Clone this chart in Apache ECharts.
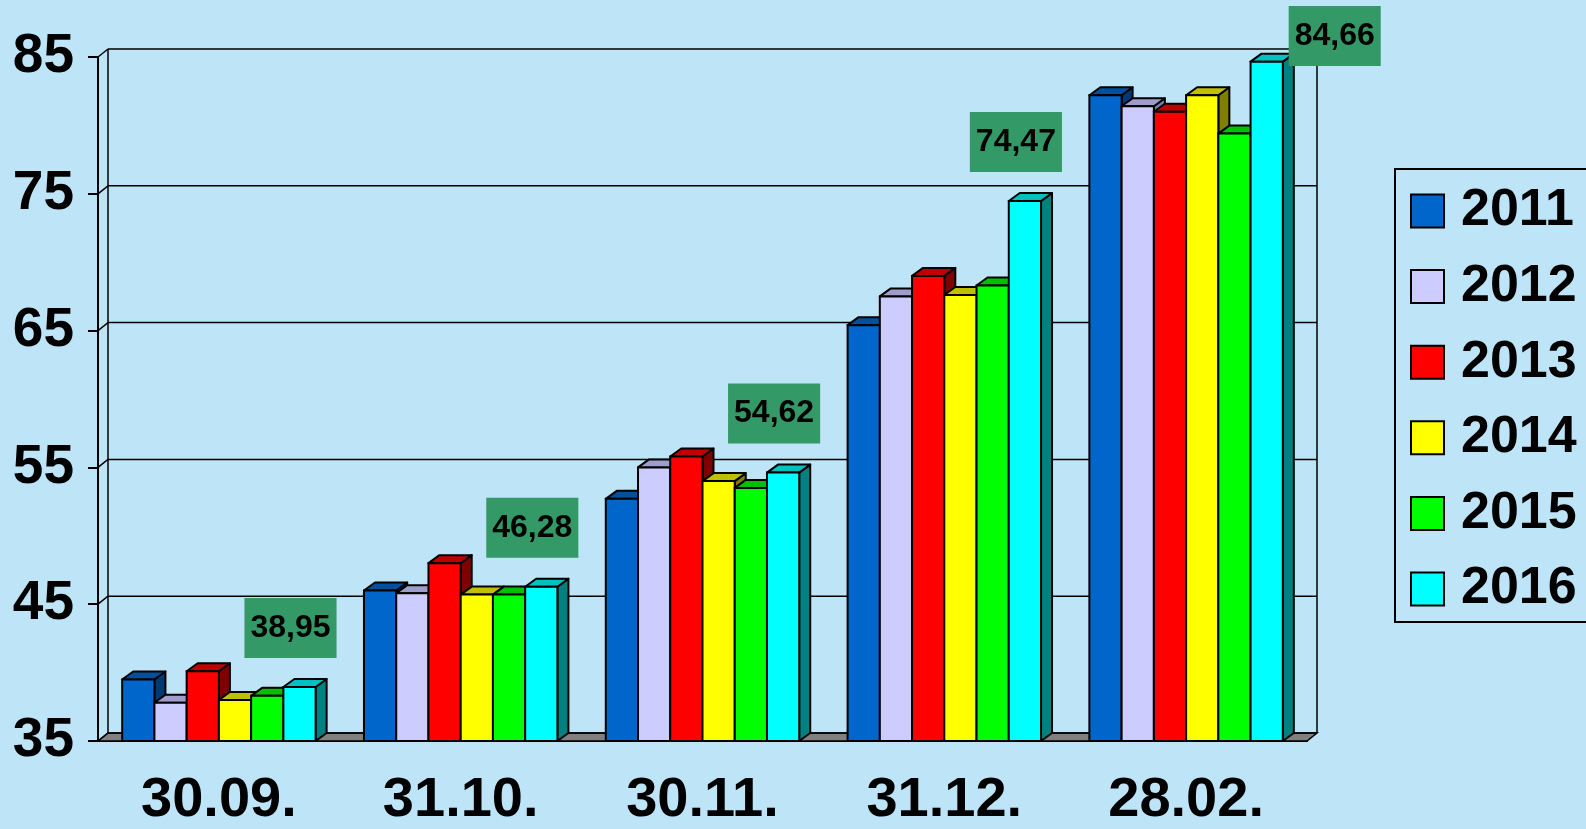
<!DOCTYPE html>
<html>
<head>
<meta charset="utf-8">
<script src="https://cdn.jsdelivr.net/npm/echarts@6/dist/echarts.min.js"></script>
<style>
html,body{margin:0;padding:0;background:#BEE4F7;}
#chart{width:1586px;height:829px;}
</style>
</head>
<body>
<div id="chart"></div>
<script>
const categories = ['30.09.', '31.10.', '30.11.', '31.12.', '28.02.'];
const years = ['2011', '2012', '2013', '2014', '2015', '2016'];
const v2011 = [39.5, 46.0, 52.7, 65.4, 82.2];
const v2012 = [37.8, 45.8, 55.0, 67.5, 81.4];
const v2013 = [40.1, 48.0, 55.8, 69.0, 81.0];
const v2014 = [38.0, 45.7, 54.0, 67.6, 82.2];
const v2015 = [38.3, 45.7, 53.5, 68.3, 79.4];
const v2016 = [38.95, 46.28, 54.62, 74.47, 84.66];
const yTicks = [35, 45, 55, 65, 75, 85];

const seriesValues = [v2011, v2012, v2013, v2014, v2015, v2016];
const frontColors = ['#0066CC', '#CCCCFF', '#FF0000', '#FFFF00', '#00FF00', '#00FFFF'];
const topColors   = ['#0050A0', '#9E9ECC', '#C00000', '#C0C000', '#00C000', '#00C0C0'];
const sideColors  = ['#003A75', '#7F7FA6', '#800000', '#808000', '#008000', '#008080'];

const yMin = yTicks[0], yMax = yTicks[yTicks.length - 1];
const WDX = 10, WDY = 8;   // wall depth offset
const BDX = 11, BDY = 8;   // bar depth offset
const LINE = '#000';
const FONT = '"Liberation Sans", Arial, sans-serif';

function wallRender(params, api) {
  const cs = params.coordSys;
  const t = api.value(1);
  const y = api.coord([0, t])[1];
  const left = cs.x, right = cs.x + cs.width;
  const children = [];
  if (params.dataIndex === 0) {
    const yb = api.coord([0, yMin])[1];
    const yt = api.coord([0, yMax])[1];
    // floor
    children.push({
      type: 'polygon',
      shape: { points: [[left, yb], [left + WDX, yb - WDY], [right + WDX, yb - WDY], [right, yb]] },
      style: { fill: '#808080', stroke: LINE, lineWidth: 1.5 }
    });
    // left wall back edge
    children.push({
      type: 'line',
      shape: { x1: left + WDX, y1: yt - WDY, x2: left + WDX, y2: yb - WDY },
      style: { stroke: LINE, lineWidth: 1.5 }
    });
    // back wall right edge
    children.push({
      type: 'line',
      shape: { x1: right + WDX, y1: yt - WDY, x2: right + WDX, y2: yb - WDY },
      style: { stroke: LINE, lineWidth: 1.5 }
    });
  }
  // back gridline
  children.push({
    type: 'line',
    shape: { x1: left + WDX, y1: y - WDY, x2: right + WDX, y2: y - WDY },
    style: { stroke: LINE, lineWidth: 1.5 }
  });
  // left wall diagonal
  children.push({
    type: 'line',
    shape: { x1: left, y1: y, x2: left + WDX, y2: y - WDY },
    style: { stroke: LINE, lineWidth: 1.5 }
  });
  return { type: 'group', children };
}

function barRender(sIdx, withLabel) {
  return function (params, api) {
    const ci = api.value(0), v = api.value(1);
    const top = api.coord([ci, v]);
    const base = api.coord([ci, yMin]);
    const band = api.size([1, 0])[0];
    const bw = band * 0.8 / 6;
    const x0 = top[0] - band * 0.4 + sIdx * bw;
    const x1 = x0 + bw;
    const yt = top[1], yb = base[1];
    const children = [
      { type: 'polygon',
        shape: { points: [[x1, yt], [x1 + BDX, yt - BDY], [x1 + BDX, yb - BDY], [x1, yb]] },
        style: { fill: sideColors[sIdx], stroke: LINE, lineWidth: 2, lineJoin: 'round' } },
      { type: 'polygon',
        shape: { points: [[x0, yt], [x0 + BDX, yt - BDY], [x1 + BDX, yt - BDY], [x1, yt]] },
        style: { fill: topColors[sIdx], stroke: LINE, lineWidth: 2, lineJoin: 'round' } },
      { type: 'rect',
        shape: { x: x0, y: yt, width: bw, height: yb - yt },
        style: { fill: frontColors[sIdx], stroke: LINE, lineWidth: 2 } }
    ];
    if (withLabel) {
      const boxH = 60;
      let cx = (x0 + x1) / 2 - 9;
      let cy = yt - 29 - boxH / 2;
      if (cy - boxH / 2 < 6) {
        cy = 6 + boxH / 2;
        cx = (x0 + x1) / 2 + 68;
      }
      children.push({
        type: 'text',
        z2: 100,
        style: {
          text: v.toFixed(2).replace('.', ','),
          x: cx, y: cy,
          align: 'center', verticalAlign: 'middle',
          font: 'bold 32px ' + FONT,
          lineHeight: 32,
          fill: '#000',
          backgroundColor: '#339966',
          padding: [14, 6]
        }
      });
    }
    return { type: 'group', children };
  };
}

const series = [{
  type: 'custom',
  name: 'walls',
  renderItem: wallRender,
  data: yTicks.map(t => [0, t]),
  silent: true,
  z: 1
}];
years.forEach((yr, i) => {
  series.push({
    type: 'custom',
    name: yr,
    renderItem: barRender(i, i === years.length - 1),
    itemStyle: { color: frontColors[i] },
    data: seriesValues[i].map((v, k) => [k, v]),
    z: 2
  });
});

const chart = echarts.init(document.getElementById('chart'), null, { renderer: 'canvas' });
chart.setOption({
  backgroundColor: '#BEE4F7',
  animation: false,
  grid: { left: 98, right: 279, top: 57, bottom: 84 },
  xAxis: {
    type: 'category',
    data: categories,
    boundaryGap: true,
    axisLine: { lineStyle: { color: LINE, width: 2 } },
    axisTick: { length: 11, lineStyle: { color: LINE, width: 2 } },
    axisLabel: { color: '#000', fontSize: 56, fontWeight: 'bold', fontFamily: FONT, margin: 32 },
    splitLine: { show: false }
  },
  yAxis: {
    type: 'value',
    min: yMin, max: yMax, interval: 10,
    axisLine: { show: true, lineStyle: { color: LINE, width: 2 } },
    axisTick: { show: true, length: 10, lineStyle: { color: LINE, width: 2 } },
    axisLabel: { color: '#000', fontSize: 55, fontWeight: 'bold', fontFamily: FONT, margin: 24 },
    splitLine: { show: false }
  },
  legend: {
    data: years,
    orient: 'vertical',
    left: 1395, top: 169,
    padding: [16, 200, 7, 15],
    borderColor: '#000', borderWidth: 2,
    itemWidth: 33, itemHeight: 33, itemGap: 23.6,
    icon: 'rect',
    itemStyle: { borderColor: '#000', borderWidth: 2 },
    textStyle: { color: '#000', fontSize: 52, fontWeight: 'bold', fontFamily: FONT, lineHeight: 52, padding: [0, 0, 0, 12] }
  },
  series
});
</script>
</body>
</html>
